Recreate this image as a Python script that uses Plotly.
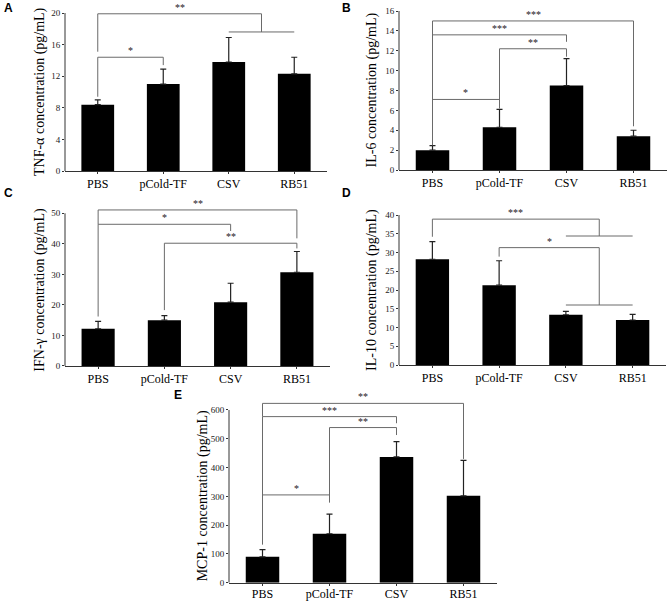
import plotly.graph_objects as go

# ---------------- data ----------------
categories = ["PBS", "pCold-TF", "CSV", "RB51"]

tnf_mean = [8.4, 11.0, 13.8, 12.3]
tnf_err = [0.6, 1.9, 3.1, 2.1]
il6_mean = [2.0, 4.3, 8.5, 3.4]
il6_err = [0.45, 1.8, 2.7, 0.6]
ifn_mean = [12.2, 15.0, 20.9, 30.7]
ifn_err = [2.4, 1.5, 6.2, 6.8]
il10_mean = [28.2, 21.3, 13.4, 12.0]
il10_err = [4.7, 6.5, 0.9, 1.5]
mcp_mean = [90, 170, 437, 302]
mcp_err = [25, 68, 53, 123]

tnf_ticks = [0, 4, 8, 12, 16, 20]
il6_ticks = [0, 2, 4, 6, 8, 10, 12, 14, 16]
ifn_ticks = [0, 10, 20, 30, 40, 50]
il10_ticks = [0, 5, 10, 15, 20, 25, 30, 35, 40]
mcp_ticks = [0, 100, 200, 300, 400, 500, 600]

titles = ["TNF-α concentration (pg/mL)", "IL-6 concentration (pg/mL)",
          "IFN-γ concentration (pg/mL)", "IL-10 concentration (pg/mL)",
          "MCP-1 concentration (pg/mL)"]
panel_letters = ["A", "B", "C", "D", "E"]

# significance brackets: (x_left, x_right, y_line, y_left_end, y_right_end, label)
tnf_brackets = [(0, 1, 14.4, 9.4, 13.4, "*"), (0, 2.5, 19.9, 15.1, 17.6, "**")]
tnf_groups = [(2, 3, 17.6)]
il6_brackets = [(0, 1, 7.1, 2.5, 6.2, "*"), (1, 2, 12.2, 6.2, 11.4, "**"),
                (0, 2, 13.6, 2.5, 12.9, "***"), (0, 3, 15.0, 2.5, 4.4, "***")]
il6_groups = []
ifn_brackets = [(0, 3, 51.1, 46.4, 41.8, "**"), (0, 2, 46.4, 16.2, 44.2, "*"),
                (1, 3, 40.2, 18.3, 38.5, "**")]
ifn_groups = []
il10_brackets = [(0, 2.5, 38.9, 34.2, 34.4, "***"), (1, 2.5, 31.3, 28.9, 16.0, "*")]
il10_groups = [(2, 3, 34.4), (2, 3, 16.0)]
mcp_brackets = [(0, 1, 305, 133, 279, "*"), (1, 2, 539, 279, 513, "**"),
                (0, 2, 577, 133, 554, "***"), (0, 3, 623, 577, 430, "**")]
mcp_groups = []

# ---------------- layout geometry (pixels) ----------------
W, H = 669, 601
# x_left, x_right, y_zero, y_top_tick, ymax, title_offset, xlabel_standoff
geom = [
    (65, 327, 171, 13, 20.6, 25, 0),
    (399, 667, 170, 11, 16, 27, 0),
    (65, 330, 366, 213.3, 52.5, 25, 0),
    (399, 666, 365, 215, 40, 27, 0),
    (229, 497, 582.7, 410, 632, 26, -2),
]
label_pos = [(8, 8), (346, 8), (8, 193), (346, 193), (178, 395)]

means = [tnf_mean, il6_mean, ifn_mean, il10_mean, mcp_mean]
errs = [tnf_err, il6_err, ifn_err, il10_err, mcp_err]
ticks = [tnf_ticks, il6_ticks, ifn_ticks, il10_ticks, mcp_ticks]
brackets = [tnf_brackets, il6_brackets, ifn_brackets, il10_brackets, mcp_brackets]
groups = [tnf_groups, il6_groups, ifn_groups, il10_groups, mcp_groups]

SERIF = "Liberation Serif"
AXC = "#333333"
BRC = "#6a6a6a"

fig = go.Figure()
layout = dict(
    template="none",
    width=W, height=H, margin=dict(l=0, r=0, t=0, b=0, pad=0), autosize=False,
    paper_bgcolor="white", plot_bgcolor="white", showlegend=False,
    bargap=0.5, font=dict(family=SERIF, color="black"),
)
shapes = []
annotations = []

for i in range(5):
    n = "" if i == 0 else str(i + 1)
    xa, ya = "x" + n, "y" + n
    xl, xr, y0, yt, ymax, toff, xstand = geom[i]
    top = ticks[i][-1]
    ppu = (y0 - yt) / top
    ytop_px = y0 - ymax * ppu

    fig.add_trace(go.Bar(
        x=categories, y=means[i], xaxis=xa, yaxis=ya,
        marker=dict(color="black", line=dict(width=0)),
        error_y=dict(type="data", symmetric=False, array=errs[i],
                     arrayminus=[0] * len(errs[i]), color="#222222",
                     thickness=1.2, width=3),
    ))

    layout["xaxis" + n] = dict(
        domain=[xl / W, xr / W], anchor=ya, range=[-0.5, 3.5], automargin=False,
        showline=True, linecolor=AXC, linewidth=1, ticks="outside", ticklen=2,
        tickcolor=AXC, showgrid=False, zeroline=False, ticklabelstandoff=xstand,
        tickfont=dict(family=SERIF, size=12, color="black"),
    )
    layout["yaxis" + n] = dict(
        domain=[1 - y0 / H, 1 - ytop_px / H], anchor=xa, range=[0, ymax],
        automargin=False,
        tickvals=ticks[i], ticktext=[str(t) for t in ticks[i]],
        showline=False, ticks="outside", ticklen=2, tickcolor=AXC,
        showgrid=False, zeroline=False,
        tickfont=dict(family=SERIF, size=9, color="#222"),
    )
    # y axis title
    annotations.append(dict(xref="paper", yref="paper", x=(xl - toff) / W,
                            y=1 - ((y0 + yt) / 2) / H, text=titles[i],
                            textangle=-90, showarrow=False,
                            xanchor="center", yanchor="middle",
                            font=dict(family=SERIF, size=14, color="black")))
    # y axis line from 0 to top tick
    shapes.append(dict(type="line", xref=xa + " domain", yref=ya, x0=0, x1=0,
                       y0=0, y1=top, line=dict(color=AXC, width=1)))

    for (a, b, yl, ya_end, yb_end, lab) in brackets[i]:
        path_pts = [(a, ya_end), (a, yl), (b, yl), (b, yb_end)]
        for (p, q) in zip(path_pts[:-1], path_pts[1:]):
            shapes.append(dict(type="line", xref=xa, yref=ya, x0=p[0], y0=p[1],
                               x1=q[0], y1=q[1], line=dict(color=BRC, width=1)))
        annotations.append(dict(xref=xa, yref=ya, x=(a + b) / 2, y=yl, text=lab,
                                showarrow=False, yanchor="bottom", yshift=-1,
                                font=dict(family=SERIF, size=10, color="#222")))
    for (a, b, yl) in groups[i]:
        shapes.append(dict(type="line", xref=xa, yref=ya, x0=a, y0=yl, x1=b, y1=yl,
                           line=dict(color=BRC, width=1)))

    lx, ly = label_pos[i]
    annotations.append(dict(xref="paper", yref="paper", x=lx / W, y=1 - ly / H,
                            text="<b>%s</b>" % panel_letters[i], showarrow=False,
                            xanchor="center", yanchor="middle",
                            font=dict(family="Liberation Sans", size=12,
                                      color="black")))

layout["shapes"] = shapes
layout["annotations"] = annotations
fig.update_layout(**layout)
fig.write_html("out.html", config={"displayModeBar": False},
               post_script="document.body.style.margin='0';"
                           "document.body.style.overflow='hidden';")
